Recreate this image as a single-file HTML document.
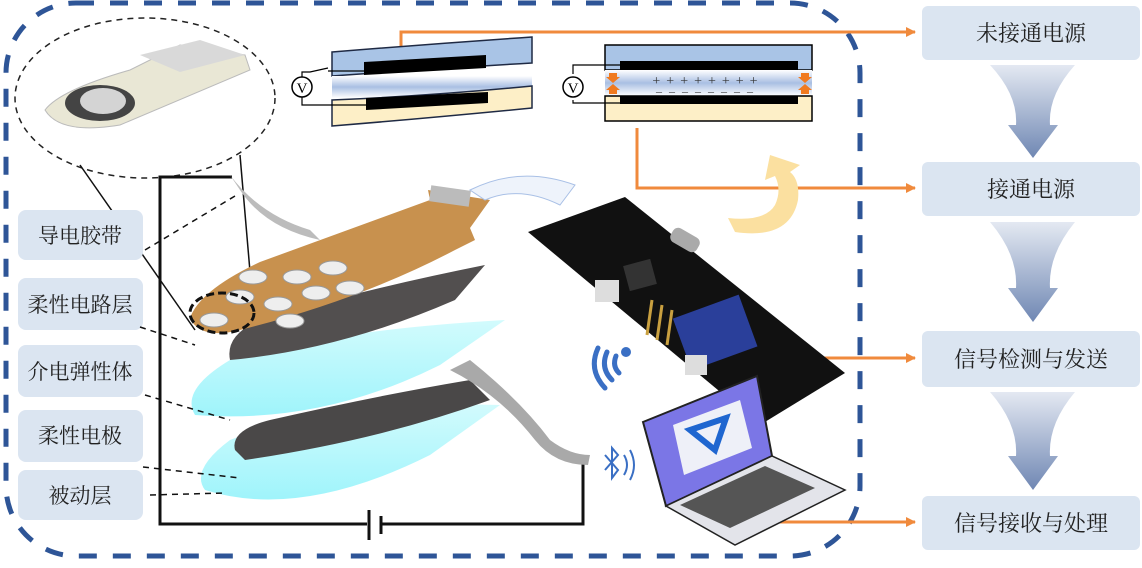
<!DOCTYPE html>
<html><head><meta charset="utf-8"><style>
body{margin:0;background:#fff;width:1142px;height:563px;overflow:hidden}
svg text{font-family:"Liberation Serif","Noto Serif CJK SC","Noto Sans CJK SC",serif}
</style></head><body>
<svg width="1142" height="563" viewBox="0 0 1142 563" xmlns="http://www.w3.org/2000/svg">
<defs>
<linearGradient id="fun" x1="0" y1="0" x2="0" y2="1"><stop offset="0" stop-color="#e4e9f2"/><stop offset="1" stop-color="#6f87b3"/></linearGradient>
<linearGradient id="gap" x1="0" y1="0" x2="0" y2="1"><stop offset="0" stop-color="#fff"/><stop offset="0.5" stop-color="#a9bfe3"/><stop offset="1" stop-color="#fff"/></linearGradient>
<linearGradient id="cyan" x1="0" y1="0" x2="0" y2="1"><stop offset="0" stop-color="#d2fbfd"/><stop offset="1" stop-color="#9ff4fb"/></linearGradient>
<marker id="ar" markerWidth="10" markerHeight="10" refX="9" refY="5" orient="auto" markerUnits="userSpaceOnUse"><path d="M0,0 L10,5 L0,10 z" fill="#f08a3c"/></marker>
</defs>
<rect x="6" y="3" width="854" height="553" rx="70" fill="none" stroke="#2e5597" stroke-width="5" stroke-dasharray="18,16"/>
<g fill="#dbe5f1">
<rect x="922" y="6" width="218" height="54" rx="6"/>
<rect x="922" y="162" width="218" height="54" rx="6"/>
<rect x="922" y="331" width="218" height="56" rx="6"/>
<rect x="922" y="496" width="218" height="54" rx="6"/>
</g>
<g font-size="22" fill="#222" text-anchor="middle">
<text x="1031" y="41">未接通电源</text>
<text x="1031" y="197">接通电源</text>
<text x="1031" y="367">信号检测与发送</text>
<text x="1031" y="531">信号接收与处理</text>
</g>
<g fill="url(#fun)">
<path d="M990,65 L1075,65 Q1048,95 1050,125 L1058,125 L1033,158 L1008,125 L1016,125 Q1018,95 990,65z"/>
<path d="M990,222 L1075,222 Q1048,255 1050,288 L1058,288 L1033,322 L1008,288 L1016,288 Q1018,255 990,222z"/>
<path d="M990,392 L1075,392 Q1048,424 1050,456 L1058,456 L1033,490 L1008,456 L1016,456 Q1018,424 990,392z"/>
</g>
<g stroke="#f08a3c" stroke-width="3" fill="none">
<path d="M401,56 L401,32 L915,32" marker-end="url(#ar)"/>
<path d="M637,128 L637,188 L915,188" marker-end="url(#ar)"/>
<path d="M745,358 L915,358" marker-end="url(#ar)"/>
<path d="M770,522 L915,522" marker-end="url(#ar)"/>
</g>
<path d="M332,52 Q430,44 532,37 L532,63 Q430,69 332,76z" fill="#a9c4e6" stroke="#1f2a44" stroke-width="1.5"/>
<rect x="332" y="76" width="200" height="22" fill="url(#gap)"/>
<path d="M332,100 Q430,96 532,86 L532,108 Q430,118 332,126z" fill="#fdefc7" stroke="#1f2a44" stroke-width="1.5"/>
<path d="M364,62 L486,55 L486,68 L364,75z" fill="#000"/>
<path d="M366,98 L488,92 L488,103 L366,110z" fill="#000"/>
<g stroke="#000" stroke-width="1.2" fill="none">
<path d="M364,71 L328,71"/><path d="M328,68 L310,72 L302,72 L302,79"/>
<path d="M302,95 L302,105 L366,105"/>
</g>
<circle cx="302" cy="87" r="10" fill="#fff" stroke="#000" stroke-width="1.5"/>
<text x="302" y="93" font-size="15" text-anchor="middle" font-family="Liberation Sans">V</text>
<rect x="605" y="45" width="207" height="25" fill="#a9c4e6" stroke="#000" stroke-width="1.5"/>
<rect x="605" y="70" width="207" height="26" fill="url(#gap)"/>
<rect x="605" y="96" width="207" height="25" fill="#fdefc7" stroke="#000" stroke-width="1.5"/>
<rect x="620" y="61" width="178" height="9" fill="#000"/>
<rect x="620" y="96" width="178" height="8" fill="#000"/>
<text x="708" y="85" font-size="14" text-anchor="middle" fill="#333" font-family="Liberation Sans" letter-spacing="6">++++++++</text>
<text x="708" y="95" font-size="12" text-anchor="middle" fill="#333" font-family="Liberation Sans" letter-spacing="7">––––––––</text>
<g fill="#f07a20"><path d="M609,73 h8 v4 h3 l-7,6 l-7,-6 h3z"/><path d="M609,94 h8 v-4 h3 l-7,-6 l-7,6 h3z"/><path d="M801,73 h8 v4 h3 l-7,6 l-7,-6 h3z"/><path d="M801,94 h8 v-4 h3 l-7,-6 l-7,6 h3z"/></g>
<g stroke="#000" stroke-width="1.2" fill="none"><path d="M620,65 L583,65 L573,65 L573,74"/><path d="M573,100 L573,103 L620,103"/></g>
<circle cx="573" cy="87" r="10" fill="#fff" stroke="#000" stroke-width="1.5"/>
<text x="573" y="93" font-size="15" text-anchor="middle" font-family="Liberation Sans">V</text>
<path d="M735,232 Q790,240 798,200 Q800,180 790,172 L800,165 L770,155 L765,180 L775,176 Q782,190 775,205 Q765,222 728,218z" fill="#fbe0a0"/>
<ellipse cx="145" cy="98" rx="130" ry="80" fill="none" stroke="#222" stroke-width="1.5" stroke-dasharray="6,5"/>
<path d="M45,110 Q60,90 130,70 L180,45 L245,55 L250,70 L120,125 Q60,135 45,110z" fill="#e9e7d5" stroke="#bbb"/>
<path d="M140,55 L200,40 L245,55 L180,72z" fill="#d9d9d9"/>
<ellipse cx="100" cy="103" rx="35" ry="18" fill="#444"/><ellipse cx="103" cy="101" rx="23" ry="13" fill="#d4d4d4"/>
<g stroke="#111" stroke-width="1.5"><line x1="80" y1="165" x2="195" y2="330"/><line x1="240" y1="155" x2="255" y2="330"/></g>
<g stroke="#111" stroke-width="3" fill="none">
<path d="M232,177 L160,177 L160,524 L367,524"/><path d="M382,524 L583,524 L583,460"/>
<line x1="369" y1="510" x2="369" y2="540"/><line x1="381" y1="516" x2="381" y2="534"/>
</g>
<path d="M230,175 Q260,215 310,230 L320,240 Q265,228 240,190z" fill="#bcbcbc"/>
<path d="M205,490 Q190,470 230,440 Q330,400 500,405 L430,455 Q300,520 205,490z" fill="url(#cyan)"/>
<path d="M235,450 Q230,430 270,420 Q380,395 470,380 L490,400 Q380,440 245,460z" fill="#4a4848"/>
<path d="M450,370 L470,360 Q520,400 550,440 Q570,455 590,455 L588,465 Q555,465 535,440 Q500,395 450,370z" fill="#a9a9a9"/>
<path d="M195,415 Q180,390 230,360 Q330,330 505,320 L440,365 Q320,425 195,415z" fill="url(#cyan)"/>
<path d="M230,360 Q225,335 260,320 Q360,290 485,265 L455,300 Q340,350 230,360z" fill="#524f4f"/>
<path d="M190,318 Q200,290 260,262 L430,200 L428,190 L490,200 L470,228 L475,240 L455,250 Q360,300 240,330 Q200,340 190,318z" fill="#c8914e"/>
<rect x="430" y="188" width="40" height="16" fill="#bbb" transform="rotate(8 450 196)"/>
<path d="M470,190 Q520,165 575,185 L560,205 Q520,185 485,200z" fill="#eef3fb" stroke="#a9c0e6"/>
<g fill="#eee" stroke="#999">
<ellipse cx="253" cy="277" rx="14" ry="7"/><ellipse cx="297" cy="277" rx="14" ry="7"/><ellipse cx="333" cy="268" rx="14" ry="7"/>
<ellipse cx="240" cy="297" rx="14" ry="7"/><ellipse cx="278" cy="304" rx="14" ry="7"/><ellipse cx="316" cy="293" rx="14" ry="7"/><ellipse cx="350" cy="288" rx="14" ry="7"/>
<ellipse cx="214" cy="320" rx="14" ry="7"/><ellipse cx="290" cy="321" rx="14" ry="7"/>
</g>
<ellipse cx="222" cy="313" rx="32" ry="20" fill="none" stroke="#111" stroke-width="3" stroke-dasharray="8,4"/>
<g fill="#dbe5f1">
<rect x="18" y="210" width="125" height="50" rx="8"/><rect x="18" y="278" width="125" height="52" rx="8"/>
<rect x="18" y="345" width="125" height="52" rx="8"/><rect x="18" y="410" width="125" height="52" rx="8"/>
<rect x="18" y="470" width="125" height="50" rx="8"/>
</g>
<g font-size="21" fill="#222" text-anchor="middle">
<text x="80" y="243">导电胶带</text><text x="80" y="312">柔性电路层</text>
<text x="80" y="379">介电弹性体</text><text x="80" y="443">柔性电极</text><text x="80" y="503">被动层</text>
</g>
<g stroke="#111" stroke-width="1.5" stroke-dasharray="6,5" fill="none">
<path d="M145,250 L235,196"/><path d="M140,327 L195,345"/><path d="M145,395 L230,420"/>
<path d="M143,467 L240,478"/><path d="M150,495 L225,493"/>
</g>
<path d="M528,232 L625,197 L845,373 L760,425z" fill="#111"/>
<rect x="626" y="262" width="28" height="26" fill="#333" transform="rotate(-15 640 275)"/>
<rect x="680" y="305" width="70" height="55" fill="#2a3f9a" transform="rotate(-20 715 332)"/>
<rect x="670" y="232" width="30" height="16" rx="6" fill="#aaa" transform="rotate(30 685 240)"/>
<rect x="595" y="280" width="24" height="22" fill="#ddd"/>
<rect x="685" y="355" width="22" height="20" fill="#ddd"/>
<g stroke="#c9a040" stroke-width="3"><line x1="652" y1="300" x2="647" y2="335"/><line x1="662" y1="305" x2="657" y2="340"/><line x1="672" y1="310" x2="667" y2="345"/></g>
<g stroke="#3a6fc4" stroke-width="5" fill="none" stroke-linecap="round">
<path d="M598,348 Q588,370 605,388"/><path d="M607,352 Q600,368 612,380"/><path d="M616,356 Q612,366 619,373"/>
</g>
<circle cx="626" cy="352" r="5" fill="#3a6fc4"/>
<g stroke="#3a6fc4" stroke-width="2" fill="none"><path d="M605,455 L618,470 L612,478 L612,448 L618,455 L605,470"/><path d="M624,455 Q630,465 624,475"/><path d="M630,450 Q638,465 630,480"/></g>
<path d="M643,422 L757,376 L772,456 L666,506z" fill="#7b76e6" stroke="#222" stroke-width="2"/>
<path d="M673,425 L740,400 L752,448 L684,475z" fill="#eef0f8"/>
<path d="M690,430 L726,418 L715,450z" fill="none" stroke="#1f66d0" stroke-width="6"/>
<path d="M666,506 L772,456 L845,490 L735,545z" fill="#e3e4ea" stroke="#222" stroke-width="1.5"/>
<path d="M680,505 L765,466 L815,488 L730,528z" fill="#555"/>
</svg>
</body></html>
